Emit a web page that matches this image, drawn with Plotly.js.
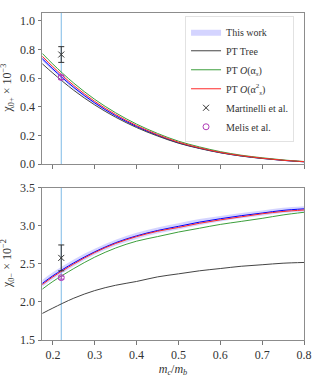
<!DOCTYPE html>
<html>
<head>
<meta charset="utf-8">
<script src="https://cdn.plot.ly/plotly-3.0.1.min.js"></script>
<style>
  html, body { margin: 0; padding: 0; background: #fff; }
  #chart { width: 324px; height: 378px; }
</style>
</head>
<body>
<div id="chart"></div>
<script>
// ---- data ----
const massRatio = [0.175, 0.2, 0.25, 0.3, 0.35, 0.4, 0.45, 0.5, 0.55, 0.6, 0.65, 0.7, 0.75, 0.8];

// chi_0+ x 10^-3 (top panel)
const plusThisWork = [0.735, 0.664, 0.535, 0.427, 0.337, 0.262, 0.201, 0.148, 0.111, 0.080, 0.057, 0.040, 0.026, 0.016];
const plusUpper    = [0.750, 0.678, 0.547, 0.436, 0.344, 0.267, 0.205, 0.151, 0.113, 0.082, 0.058, 0.041, 0.027, 0.017];
const plusLower    = [0.720, 0.650, 0.523, 0.418, 0.330, 0.257, 0.197, 0.145, 0.109, 0.078, 0.056, 0.039, 0.025, 0.015];
const plusTree     = [0.700, 0.635, 0.515, 0.413, 0.327, 0.255, 0.196, 0.146, 0.109, 0.079, 0.056, 0.039, 0.026, 0.016];
const plusAs       = [0.772, 0.698, 0.565, 0.452, 0.358, 0.279, 0.214, 0.160, 0.120, 0.087, 0.062, 0.044, 0.029, 0.018];
const plusAs2      = [0.752, 0.680, 0.549, 0.438, 0.346, 0.269, 0.206, 0.153, 0.114, 0.082, 0.059, 0.041, 0.027, 0.017];

// chi_0- x 10^-2 (bottom panel)
const minusThisWork = [2.245, 2.345, 2.515, 2.66, 2.78, 2.87, 2.94, 2.995, 3.05, 3.095, 3.135, 3.17, 3.205, 3.225];
const minusUpper    = [2.29, 2.39, 2.56, 2.70, 2.82, 2.91, 2.98, 3.035, 3.09, 3.13, 3.17, 3.205, 3.24, 3.26];
const minusLower    = [2.20, 2.30, 2.47, 2.62, 2.74, 2.83, 2.90, 2.955, 3.01, 3.06, 3.10, 3.135, 3.17, 3.19];
const minusTree     = [1.85, 1.92, 2.05, 2.15, 2.22, 2.27, 2.33, 2.37, 2.41, 2.44, 2.47, 2.49, 2.51, 2.52];
const minusAs       = [2.17, 2.27, 2.44, 2.59, 2.71, 2.80, 2.86, 2.92, 2.97, 3.02, 3.06, 3.10, 3.145, 3.18];
const minusAs2      = [2.23, 2.33, 2.50, 2.65, 2.77, 2.86, 2.93, 2.98, 3.035, 3.08, 3.12, 3.16, 3.19, 3.21];

// literature points at the physical mass ratio
const physRatio = 0.22;
const martinelliVal = [0.765, 2.58];
const martinelliErr = [0.055, 0.17];
const melisVal = [0.605, 2.32];
const melisErr = [0.015, 0.02];

const xTicks = [0.2, 0.3, 0.4, 0.5, 0.6, 0.7, 0.8];
const topTicks = [0.0, 0.2, 0.4, 0.6, 0.8, 1.0];
const botTicks = [1.5, 2.0, 2.5, 3.0, 3.5];

// ---- styles ----
const FONT = 'Liberation Serif, DejaVu Serif, serif';
const cBand = 'rgba(0,0,255,0.17)';
const cBlue = '#0000ff';
const cTree = '#444444';
const cAs = '#3c9f3c';
const cAs2 = '#ff2a2a';
const cMelis = '#b03cb8';
const cVline = '#7dbbe6';

function line(y, color, name, yaxis, showLeg) {
    return {
        x: massRatio, y: y, mode: 'lines', name: name,
        line: { color: color, width: 1, shape: 'spline' },
        xaxis: yaxis === 'y' ? 'x' : 'x2', yaxis: yaxis,
        showlegend: showLeg, hoverinfo: 'skip'
    };
}

function band(up, lo, yaxis, showLeg) {
    let xa = yaxis === 'y' ? 'x' : 'x2';
    return [
        { x: massRatio, y: up, mode: 'lines', line: { width: 0, shape: 'spline' },
          xaxis: xa, yaxis: yaxis, showlegend: false, hoverinfo: 'skip' },
        { x: massRatio, y: lo, mode: 'lines', fill: 'tonexty', fillcolor: cBand,
          line: { width: 0, shape: 'spline' }, name: 'This work', legendrank: 1,
          xaxis: xa, yaxis: yaxis, showlegend: showLeg, hoverinfo: 'skip' }
    ];
}

function points(i, yaxis, showLeg) {
    let xa = yaxis === 'y' ? 'x' : 'x2';
    return [
        { x: [physRatio], y: [martinelliVal[i]], mode: 'markers', name: 'Martinelli et al.',
          legendrank: 5,
          marker: { symbol: 'x-thin-open', size: 6, color: '#333', line: { width: 1, color: '#333' } },
          error_y: { type: 'data', array: [martinelliErr[i]], color: '#333', thickness: 1, width: 3 },
          xaxis: xa, yaxis: yaxis, showlegend: showLeg },
        { x: [physRatio], y: [melisVal[i]], mode: 'markers', name: 'Melis et al.',
          legendrank: 6,
          marker: { symbol: 'circle-open', size: 6, color: cMelis, line: { width: 1, color: cMelis } },
          error_y: { type: 'data', array: [melisErr[i]], color: cMelis, thickness: 1, width: 3 },
          xaxis: xa, yaxis: yaxis, showlegend: showLeg }
    ];
}

let traces = [];
traces = traces.concat(band(plusUpper, plusLower, 'y', true));
traces.push(line(plusThisWork, cBlue, 'central', 'y', false));
let t1 = line(plusTree, cTree, 'PT Tree', 'y', true); t1.legendrank = 2;
let t2 = line(plusAs, cAs, 'PT <i>O</i>(α<sub><i>s</i></sub>)', 'y', true); t2.legendrank = 3;
let t3 = line(plusAs2, cAs2, 'PT <i>O</i>(α<sup>2</sup><sub><i>s</i></sub>)', 'y', true); t3.legendrank = 4;
traces.push(t1, t2, t3);
traces = traces.concat(points(0, 'y', true));

traces = traces.concat(band(minusUpper, minusLower, 'y2', false));
traces.push(line(minusThisWork, cBlue, 'central', 'y2', false));
traces.push(line(minusTree, cTree, 'PT Tree', 'y2', false));
traces.push(line(minusAs, cAs, 'as', 'y2', false));
traces.push(line(minusAs2, cAs2, 'as2', 'y2', false));
traces = traces.concat(points(1, 'y2', false));

const axisCommon = {
    showgrid: false, zeroline: false, showline: true, mirror: true,
    linecolor: '#8c8c8c', linewidth: 1,
    ticks: 'outside', ticklen: 3.5, tickcolor: '#555', tickwidth: 0.8,
    tickfont: { family: FONT, size: 12, color: '#333' }
};

const topDomain = [0.538, 1];
const botDomain = [0, 0.465];
const plotW = 324 - 42 - 20;

const layout = {
    width: 324, height: 378,
    margin: { l: 42, r: 20, t: 13, b: 38 },
    paper_bgcolor: '#fff', plot_bgcolor: '#fff',
    font: { family: FONT, color: '#333' },
    showlegend: true,
    legend: {
        x: 0.962, xanchor: 'right', y: 0.99, yanchor: 'top',
        traceorder: 'normal',
        bgcolor: 'rgba(255,255,255,0.9)', bordercolor: '#e2e2e2', borderwidth: 1,
        font: { family: FONT, size: 10, color: '#333' },
        tracegroupgap: 0, itemwidth: 30
    },
    xaxis: Object.assign({}, axisCommon, {
        range: [0.174, 0.8], tickvals: xTicks, showticklabels: false,
        anchor: 'y', domain: [0, 1]
    }),
    yaxis: Object.assign({}, axisCommon, {
        range: [0, 1.055], tickvals: topTicks, tickformat: '.1f',
        domain: topDomain, anchor: 'x'
    }),
    xaxis2: Object.assign({}, axisCommon, {
        range: [0.174, 0.8], tickvals: xTicks, tickformat: '.1f',
        anchor: 'y2', domain: [0, 1],
        title: { text: '<i>m<sub>c</sub></i>/<i>m<sub>b</sub></i>', font: { family: FONT, size: 12 }, standoff: 2 }
    }),
    yaxis2: Object.assign({}, axisCommon, {
        range: [1.5, 3.5], tickvals: botTicks, tickformat: '.1f',
        domain: botDomain, anchor: 'x2'
    }),
    annotations: [
        { text: 'χ<sub>0+</sub> × 10<sup>−3</sup>', xref: 'paper', yref: 'paper',
          x: -34 / plotW, y: (topDomain[0] + topDomain[1]) / 2, xanchor: 'center', yanchor: 'middle',
          textangle: -90,
          showarrow: false, font: { family: FONT, size: 12, color: '#333' } },
        { text: 'χ<sub>0−</sub> × 10<sup>−2</sup>', xref: 'paper', yref: 'paper',
          x: -34 / plotW, y: (botDomain[0] + botDomain[1]) / 2, xanchor: 'center', yanchor: 'middle',
          textangle: -90,
          showarrow: false, font: { family: FONT, size: 12, color: '#333' } }
    ],
    shapes: [
        { type: 'line', xref: 'x', yref: 'y domain', x0: physRatio, x1: physRatio, y0: 0, y1: 1,
          line: { color: cVline, width: 1 }, layer: 'below' },
        { type: 'line', xref: 'x2', yref: 'y2 domain', x0: physRatio, x1: physRatio, y0: 0, y1: 1,
          line: { color: cVline, width: 1 }, layer: 'below' }
    ]
};

Plotly.newPlot('chart', traces, layout, { staticPlot: true, displayModeBar: false });
</script>
</body>
</html>
